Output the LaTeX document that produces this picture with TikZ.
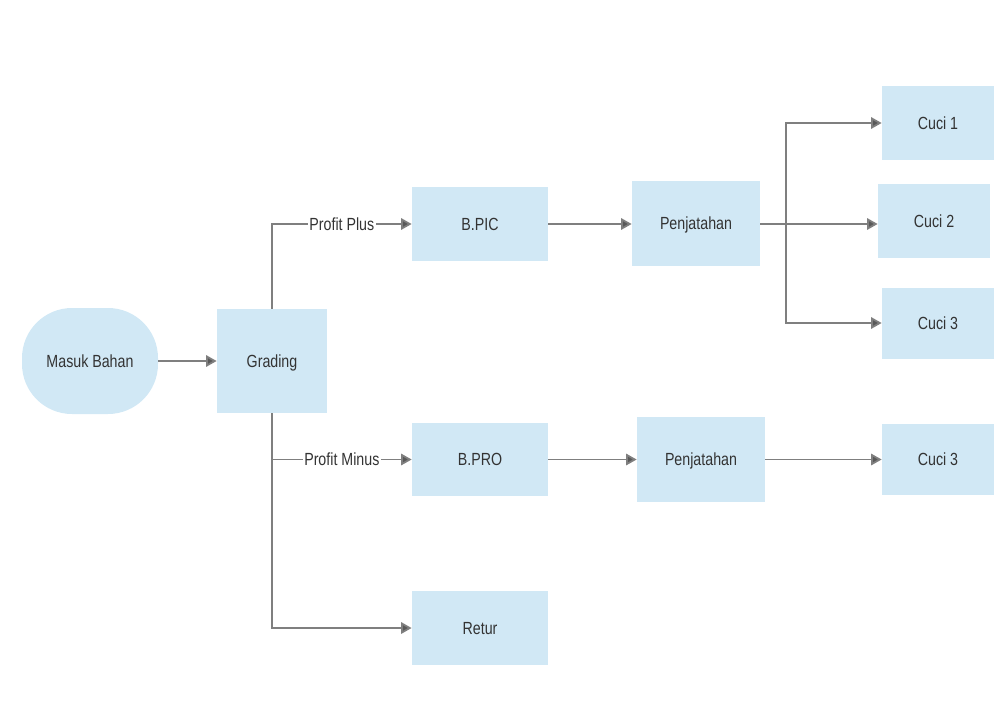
\documentclass[tikz,border=0pt]{standalone}
\usepackage{fontspec}
\setmainfont[FakeStretch=0.81]{Liberation Sans}
\usepackage{xcolor}
\usetikzlibrary{arrows.meta}
\definecolor{boxblue}{HTML}{D1E8F5}
\definecolor{linegray}{HTML}{7F7F7F}
\definecolor{textgray}{HTML}{333333}

\tikzset{
    box/.style={fill=boxblue, text=textgray, font=\fontsize{10}{12}\selectfont, text depth=0pt},
    flow/.style={draw=linegray, line width=1pt, -{Triangle[length=6pt,width=6.5pt,fill=black!65]}},
    lbl/.style={fill=white, text=textgray, inner sep=1pt, font=\fontsize{10}{12}\selectfont}
}

\begin{document}
\begin{tikzpicture}[x=0.02cm, y=-0.02cm]
        \useasboundingbox (0,0) rectangle (1000,700);
        \node (masuk) at (90,361) [box, minimum width=136*0.02cm, minimum height=106*0.02cm, rounded corners=50*0.02cm] {Masuk Bahan};
        \node (grading) at (272,361) [box, minimum width=110*0.02cm, minimum height=104*0.02cm] {Grading};
        \node (bpic) at (480,224) [box, minimum width=136*0.02cm, minimum height=74*0.02cm] {B.PIC};
        \node (jatah1) at (696,223.5) [box, minimum width=128*0.02cm, minimum height=85*0.02cm] {Penjatahan};
        \node (cuci1) at (938,123) [box, minimum width=112*0.02cm, minimum height=74*0.02cm] {Cuci 1};
        \node (cuci2) at (934,221) [box, minimum width=112*0.02cm, minimum height=74*0.02cm] {Cuci 2};
        \node (cuci3a) at (938,323) [box, minimum width=112*0.02cm, minimum height=71*0.02cm] {Cuci 3};
        \node (bpro) at (480,459.5) [box, minimum width=136*0.02cm, minimum height=73*0.02cm] {B.PRO};
        \node (jatah2) at (701,459.5) [box, minimum width=128*0.02cm, minimum height=85*0.02cm] {Penjatahan};
        \node (cuci3b) at (938,459.5) [box, minimum width=112*0.02cm, minimum height=71*0.02cm] {Cuci 3};
        \node (retur) at (480,628) [box, minimum width=136*0.02cm, minimum height=74*0.02cm] {Retur};
        \coordinate (split) at (786,224);

        \draw [flow] (masuk) -- (grading);
        \draw [flow] (grading.north) |- (bpic.west) node [lbl, pos=0.75] {Profit Plus};
        \draw [flow] (grading.south) |- (bpro.west) node [lbl, pos=0.75] {Profit Minus};
        \draw [flow] (grading.south) |- (retur.west);
        \draw [flow] (bpic) -- (jatah1.west |- bpic);
        \draw [flow] (bpro) -- (jatah2);
        \draw [flow] (jatah2) -- (cuci3b);
        \draw [draw=linegray, line width=1.5pt] (jatah1.east |- split) -- (split);
        \draw [flow] (split) |- (cuci1.west);
        \draw [flow] (split) -- (cuci2.west |- split);
        \draw [flow] (split) |- (cuci3a.west);
    \end{tikzpicture}
\end{document}
